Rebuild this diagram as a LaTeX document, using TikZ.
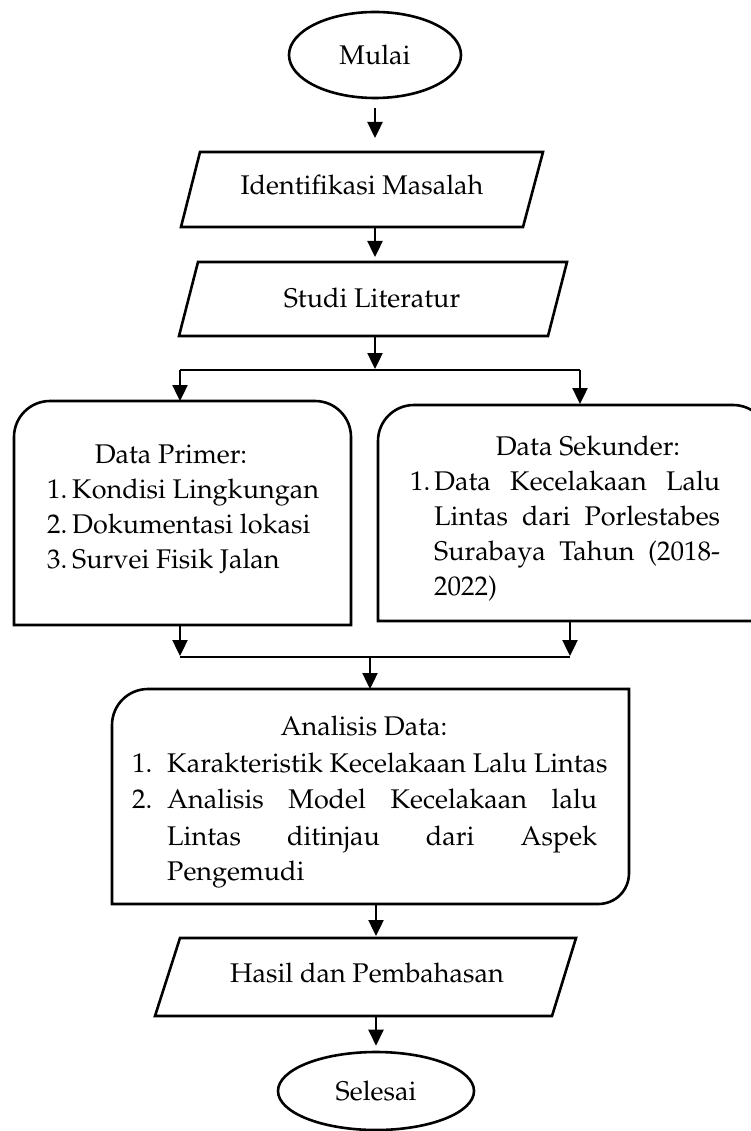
\documentclass[tikz,border=0pt]{standalone}
\usepackage[T1]{fontenc}
\usepackage{mathpazo}
\usetikzlibrary{arrows.meta,shapes.geometric}
\newcommand\myfs{\fontsize{27}{35}\selectfont}
\tikzset{
  shp/.style={line width=2.6pt, line join=miter},
  arr/.style={line width=2.4pt, -{Triangle[length=16pt,width=15pt]}},
  thinl/.style={line width=1.3pt},
  txt/.style={inner sep=0pt, font=\myfs},
  oval/.style={ellipse, draw, line width=2.6pt, inner sep=0pt, font=\myfs}
}
\begin{document}
\begin{tikzpicture}[x=1pt,y=-1pt]
\useasboundingbox (0,0) rectangle (751,1131);
% start
\node[oval, minimum width=172pt, minimum height=86pt] (mulai) at (375,55) {Mulai};
% Identifikasi Masalah
\draw[shp] (200,152) -- (543,152) -- (523,227) -- (181,227) -- cycle;
\coordinate (ident-n) at (375,152);
\coordinate (ident-s) at (375,227);
\node[txt, anchor=base] (ident) at (362,195) {Identifikasi Masalah};
% Studi Literatur
\draw[shp] (198,262) -- (567,262) -- (548,336) -- (179,336) -- cycle;
\coordinate (studi-n) at (375,262);
\coordinate (studi-s) at (375,336);
\node[txt, anchor=base] (studi) at (372,307) {Studi Literatur};
% split
\coordinate (split) at (375,370);
\coordinate (split-l) at (180,370);
\coordinate (split-r) at (580,370);
% Data Primer box
\draw[shp] (14,625) -- (14,437) .. controls (14,417.1) and (30.1,401) .. (50,401)
  -- (315,401) .. controls (334.9,401) and (351,417.1) .. (351,437) -- (351,625) -- cycle;
\coordinate (prim-n) at (180,401);
\coordinate (prim-s) at (180,625);
\node[txt, anchor=base] (primT) at (171,463) {Data Primer:};
\node[txt, anchor=base west] (prim1n) at (47,498) {1.};
\node[txt, anchor=base west] (prim1) at (72,498) {Kondisi Lingkungan};
\node[txt, anchor=base west] (prim2n) at (47,533) {2.};
\node[txt, anchor=base west] (prim2) at (72,533) {Dokumentasi lokasi};
\node[txt, anchor=base west] (prim3n) at (47,568) {3.};
\node[txt, anchor=base west] (prim3) at (72,568) {Survei Fisik Jalan};
% Data Sekunder box
\draw[shp] (378,621) -- (378,441) .. controls (378,421.1) and (394.1,405) .. (414,405)
  -- (733,405) .. controls (752.9,405) and (769,421.1) .. (769,441) -- (769,621) -- cycle;
\coordinate (sek-n) at (580,405);
\coordinate (sek-s) at (570,621);
\node[txt, anchor=base] (sekT) at (588,455) {Data Sekunder:};
\node[txt, anchor=base west] (sek1n) at (410,490) {1.};
\node[txt, anchor=base west] (sek1a) at (434,490) {\makebox[286pt][s]{Data Kecelakaan Lalu}};
\node[txt, anchor=base west] (sek1b) at (434,525) {\makebox[286pt][s]{Lintas dari Porlestabes}};
\node[txt, anchor=base west] (sek1c) at (434,560) {\makebox[286pt][s]{Surabaya Tahun (2018-}};
\node[txt, anchor=base west] (sek1d) at (434,595) {2022)};
% join
\coordinate (join-l) at (180,657);
\coordinate (join-r) at (570,657);
\coordinate (join) at (370,657);
% Analisis box
\draw[shp] (112,904) -- (112,725) .. controls (112,705.1) and (128.1,689) .. (148,689)
  -- (629,689) -- (629,873) .. controls (629,890.1) and (615.9,904) .. (598,904) -- cycle;
\coordinate (ana-n) at (370,689);
\coordinate (ana-s) at (376,904);
\node[txt, anchor=base] (anaT) at (364,735) {Analisis Data:};
\node[txt, anchor=base west] (ana1n) at (132,772) {1.};
\node[txt, anchor=base west] (ana1) at (167,772) {Karakteristik Kecelakaan Lalu Lintas};
\node[txt, anchor=base west] (ana2n) at (132,808) {2.};
\node[txt, anchor=base west] (ana2a) at (167,808) {\makebox[430pt][s]{Analisis Model Kecelakaan lalu}};
\node[txt, anchor=base west] (ana2b) at (167,845) {\makebox[430pt][s]{Lintas ditinjau dari Aspek}};
\node[txt, anchor=base west] (ana2c) at (167,880) {Pengemudi};
% Hasil
\draw[shp] (180,938) -- (576,938) -- (552,1016) -- (155,1016) -- cycle;
\coordinate (hasil-n) at (376,938);
\coordinate (hasil-s) at (376,1016);
\node[txt, anchor=base] (hasil) at (367,982) {Hasil dan Pembahasan};
% end
\node[oval, minimum width=196pt, minimum height=78pt] (selesai) at (376,1091) {Selesai};
% connectors
\draw[arr, shorten <=9pt, shorten >=14pt] (mulai.south) -- (ident-n);
\draw[arr, shorten >=5pt] (ident-s) -- (studi-n);
\draw[arr, shorten >=1pt] (studi-s) -- (split);
\draw[thinl] (split-l) -- (split-r);
\draw[arr] (split-l) -- (prim-n);
\draw[arr, shorten >=1pt] (split-r) -- (sek-n);
\draw[arr, shorten >=1pt] (prim-s) -- (join-l);
\draw[arr, shorten >=1pt] (sek-s) -- (join-r);
\draw[thinl] (join-l) -- (join-r);
\draw[arr] (join) -- (ana-n);
\draw[arr, shorten >=2pt] (ana-s) -- (hasil-n);
\draw[arr, shorten >=5pt] (hasil-s) -- (selesai.north);
\end{tikzpicture}
\end{document}
